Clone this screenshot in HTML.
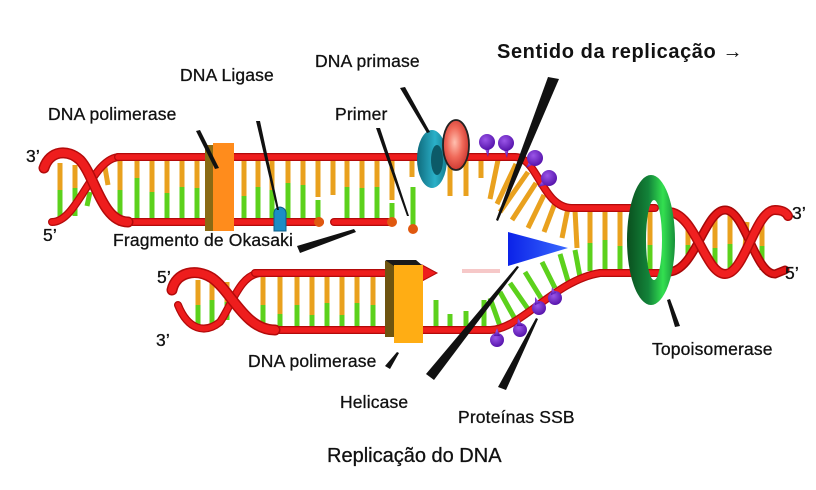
<!DOCTYPE html>
<html><head><meta charset="utf-8"><style>
html,body{margin:0;padding:0;background:#fff;}
svg{display:block;}
text{font-family:"Liberation Sans",Arial,sans-serif;fill:#111;}
.lb{font-size:17.5px;letter-spacing:0.15px;stroke:#111;stroke-width:0.3;}
.o{stroke:#e9a11e;stroke-width:5;}
.g{stroke:#5cd11c;stroke-width:5;}
.rd{fill:none;stroke:#b30a0a;stroke-width:8;stroke-linecap:round;}
.rf{fill:none;stroke:#ee1d1d;stroke-width:5.5;stroke-linecap:round;}
</style></head><body>
<svg width="816" height="490" viewBox="0 0 816 490" xmlns="http://www.w3.org/2000/svg">
<defs>
<radialGradient id="redE" cx="0.45" cy="0.45" r="0.6"><stop offset="0" stop-color="#ffc0b0"/><stop offset="0.5" stop-color="#f06a5a"/><stop offset="1" stop-color="#c8302a"/></radialGradient>
<linearGradient id="topo" x1="0" x2="1" y1="0" y2="0"><stop offset="0" stop-color="#0a4f1e"/><stop offset="0.45" stop-color="#13843a"/><stop offset="0.75" stop-color="#33e050"/><stop offset="1" stop-color="#17903a"/></linearGradient>
<linearGradient id="teal" x1="0" x2="1"><stop offset="0" stop-color="#0f6a7c"/><stop offset="0.6" stop-color="#2ab0c8"/><stop offset="1" stop-color="#157d90"/></linearGradient>
<linearGradient id="tri" x1="0" x2="1"><stop offset="0" stop-color="#0b22e8"/><stop offset="1" stop-color="#3a6aff"/></linearGradient>
<radialGradient id="pur" cx="0.4" cy="0.35" r="0.7"><stop offset="0" stop-color="#9a55e8"/><stop offset="1" stop-color="#5210a8"/></radialGradient>
</defs>
<rect width="816" height="490" fill="#fff"/>

<!-- ===== upper duplex rungs ===== -->
<g>
<line class="o" x1="60" y1="163" x2="60" y2="190"/><line class="g" x1="60" y1="190" x2="60" y2="218"/>
<line class="o" x1="75" y1="165" x2="75" y2="188"/><line class="g" x1="75" y1="188" x2="75" y2="216"/>
<line class="g" x1="90" y1="192" x2="87" y2="206"/>
<line class="o" x1="104" y1="162" x2="108" y2="185"/>
<line class="o" x1="120" y1="160" x2="120" y2="190"/><line class="g" x1="120" y1="190" x2="120" y2="219"/>
<line class="o" x1="137" y1="160" x2="137" y2="178"/><line class="g" x1="137" y1="178" x2="137" y2="219"/>
<line class="o" x1="152" y1="160" x2="152" y2="192"/><line class="g" x1="152" y1="192" x2="152" y2="219"/>
<line class="o" x1="167" y1="160" x2="167" y2="193"/><line class="g" x1="167" y1="193" x2="167" y2="219"/>
<line class="o" x1="182" y1="160" x2="182" y2="187"/><line class="g" x1="182" y1="187" x2="182" y2="219"/>
<line class="o" x1="197" y1="160" x2="197" y2="188"/><line class="g" x1="197" y1="188" x2="197" y2="219"/>
<line class="o" x1="244" y1="160" x2="244" y2="196"/><line class="g" x1="244" y1="196" x2="244" y2="219"/>
<line class="o" x1="258" y1="160" x2="258" y2="187"/><line class="g" x1="258" y1="187" x2="258" y2="219"/>
<line class="o" x1="272" y1="160" x2="272" y2="190"/><line class="g" x1="272" y1="190" x2="272" y2="219"/>
<line class="o" x1="288" y1="160" x2="288" y2="183"/><line class="g" x1="288" y1="183" x2="288" y2="219"/>
<line class="o" x1="303" y1="160" x2="303" y2="185"/><line class="g" x1="303" y1="185" x2="303" y2="219"/>
<line class="o" x1="318" y1="160" x2="318" y2="197"/><line class="g" x1="318" y1="200" x2="318" y2="219"/>
<line class="o" x1="333" y1="160" x2="333" y2="195"/>
<line class="o" x1="347" y1="160" x2="347" y2="187"/><line class="g" x1="347" y1="187" x2="347" y2="219"/>
<line class="o" x1="362" y1="160" x2="362" y2="188"/><line class="g" x1="362" y1="188" x2="362" y2="219"/>
<line class="o" x1="377" y1="160" x2="377" y2="187"/><line class="g" x1="377" y1="187" x2="377" y2="219"/>
<line class="o" x1="392" y1="160" x2="392" y2="200"/><line class="g" x1="392" y1="203" x2="392" y2="219"/>
<line class="o" x1="412" y1="160" x2="412" y2="177"/><line class="g" x1="413" y1="187" x2="413" y2="226"/>
<line class="o" x1="450" y1="160" x2="450" y2="196"/>
<line class="o" x1="466" y1="160" x2="466" y2="196"/>
<line class="o" x1="481" y1="160" x2="481" y2="178"/>
<line class="o" x1="498" y1="160" x2="490" y2="199"/>
<line class="o" x1="516" y1="164" x2="497" y2="204"/>
<line class="o" x1="528" y1="172" x2="500" y2="212"/>
<line class="o" x1="536" y1="183" x2="512" y2="220"/>
<line class="o" x1="544" y1="195" x2="528" y2="228"/>
<line class="o" x1="555" y1="203" x2="544" y2="232"/>
<line class="o" x1="568" y1="208" x2="562" y2="238"/>
<line class="o" x1="590" y1="210" x2="590" y2="243"/><line class="g" x1="590" y1="243" x2="590" y2="271"/>
<line class="o" x1="605" y1="210" x2="605" y2="240"/><line class="g" x1="605" y1="240" x2="605" y2="271"/>
<line class="o" x1="620" y1="210" x2="620" y2="246"/><line class="g" x1="620" y1="246" x2="620" y2="271"/>
<line class="o" x1="635" y1="210" x2="635" y2="242"/><line class="g" x1="635" y1="242" x2="635" y2="271"/>
<line class="o" x1="650" y1="210" x2="650" y2="245"/><line class="g" x1="650" y1="245" x2="650" y2="271"/>
<line class="o" x1="688" y1="222" x2="688" y2="245"/><line class="g" x1="688" y1="245" x2="688" y2="262"/>
<line class="o" x1="715" y1="214" x2="715" y2="248"/><line class="g" x1="715" y1="248" x2="715" y2="270"/>
<line class="o" x1="730" y1="214" x2="730" y2="244"/><line class="g" x1="730" y1="244" x2="730" y2="268"/>
<line class="o" x1="747" y1="222" x2="745" y2="248"/><line class="g" x1="745" y1="248" x2="743" y2="262"/>
<line class="o" x1="762" y1="214" x2="762" y2="246"/><line class="g" x1="762" y1="246" x2="762" y2="270"/>
<line class="o" x1="198" y1="280" x2="198" y2="305"/><line class="g" x1="198" y1="305" x2="198" y2="325"/>
<line class="o" x1="212" y1="276" x2="212" y2="300"/><line class="g" x1="212" y1="300" x2="212" y2="327"/>
<line class="o" x1="227" y1="282" x2="227" y2="302"/><line class="g" x1="227" y1="302" x2="227" y2="320"/>
<line class="o" x1="263" y1="276" x2="263" y2="305"/><line class="g" x1="263" y1="305" x2="263" y2="327"/>
<line class="o" x1="280" y1="276" x2="280" y2="314"/><line class="g" x1="280" y1="314" x2="280" y2="327"/>
<line class="o" x1="297" y1="276" x2="297" y2="305"/><line class="g" x1="297" y1="305" x2="297" y2="327"/>
<line class="o" x1="312" y1="276" x2="312" y2="315"/><line class="g" x1="312" y1="315" x2="312" y2="327"/>
<line class="o" x1="327" y1="276" x2="327" y2="303"/><line class="g" x1="327" y1="303" x2="327" y2="327"/>
<line class="o" x1="342" y1="276" x2="342" y2="315"/><line class="g" x1="342" y1="315" x2="342" y2="327"/>
<line class="o" x1="357" y1="276" x2="357" y2="303"/><line class="g" x1="357" y1="303" x2="357" y2="327"/>
<line class="o" x1="373" y1="276" x2="373" y2="305"/><line class="g" x1="373" y1="305" x2="373" y2="327"/>
<line class="o" x1="388" y1="276" x2="388" y2="305"/><line class="g" x1="388" y1="305" x2="388" y2="327"/>
<line class="g" x1="436" y1="300" x2="436" y2="327"/>
<line class="g" x1="450" y1="314" x2="450" y2="327"/>
<line class="g" x1="466" y1="311" x2="466" y2="327"/>
<line class="g" x1="484" y1="300" x2="484" y2="327"/>
<line class="g" x1="500" y1="326" x2="490" y2="298"/>
<line class="g" x1="515" y1="319" x2="500" y2="292"/>
<line class="g" x1="528" y1="309" x2="510" y2="283"/>
<line class="g" x1="541" y1="298" x2="525" y2="272"/>
<line class="g" x1="555" y1="288" x2="542" y2="262"/>
<line class="g" x1="568" y1="281" x2="560" y2="254"/>
<line class="g" x1="580" y1="277" x2="575" y2="250"/>
<line class="o" x1="575" y1="210" x2="577" y2="248"/>
</g>

<!-- ===== strands ===== -->
<g>
<path class="rd" d="M52 222 C78 222,92 157,120 157"/><path class="rf" d="M52 222 C78 222,92 157,120 157"/>
<path class="rd" d="M118 157 L515 157 C538 157,542 208,572 208 L655 208"/>
<path class="rf" d="M118 157 L515 157 C538 157,542 208,572 208 L655 208"/>
<path class="rd" d="M120 222 L320 222"/><path class="rf" d="M120 222 L320 222"/>
<path class="rd" d="M334 222 L392 222"/><path class="rf" d="M334 222 L392 222"/>
<path d="M44 168 C50 150,68 149,80 160 C95 176,102 222,128 222" fill="none" stroke="#b30a0a" stroke-width="11" stroke-linecap="round"/>
<path d="M44 168 C50 150,68 149,80 160 C95 176,102 222,128 222" fill="none" stroke="#ee1d1d" stroke-width="8" stroke-linecap="round"/>
<path class="rd" d="M178 305 C188 330,205 334,220 322 C232 305,240 273,262 273"/><path class="rf" d="M178 305 C188 330,205 334,220 322 C232 305,240 273,262 273"/>
<path class="rd" d="M255 273 L425 273"/><path class="rf" d="M255 273 L425 273"/>
<polygon points="422,265 437,273 422,281" fill="#ee1d1d" stroke="#b30a0a" stroke-width="1"/>
<path d="M462 271 L500 271" stroke="#f6c8c8" stroke-width="4"/>
<path class="rd" d="M270 330 L490 330 C520 330,555 280,600 273 L660 273"/>
<path class="rf" d="M270 330 L490 330 C520 330,555 280,600 273 L660 273"/>
<path d="M172 290 C176 272,196 268,212 278 C232 292,245 330,275 330" fill="none" stroke="#b30a0a" stroke-width="11" stroke-linecap="round"/>
<path d="M172 290 C176 272,196 268,212 278 C232 292,245 330,275 330" fill="none" stroke="#ee1d1d" stroke-width="8" stroke-linecap="round"/>
<path d="M668 272 C695 272,705 210,725 210 C745 210,755 274,775 274 L785 270" fill="none" stroke="#a50808" stroke-width="9" stroke-linecap="round"/>
<path d="M668 272 C695 272,705 210,725 210 C745 210,755 274,775 274 L785 270" fill="none" stroke="#e51818" stroke-width="6" stroke-linecap="round"/>
<path d="M668 212 C695 212,705 274,725 274 C745 274,755 210,775 210 C781 210,786 212,788 216" fill="none" stroke="#b30a0a" stroke-width="10" stroke-linecap="round"/>
<path d="M668 212 C695 212,705 274,725 274 C745 274,755 210,775 210 C781 210,786 212,788 216" fill="none" stroke="#f02020" stroke-width="7" stroke-linecap="round"/>
</g>

<!-- ===== proteins ===== -->
<rect x="205" y="145" width="9" height="86" fill="#8a6a14"/>
<rect x="213" y="143" width="21" height="88" fill="#ff8c1c"/>
<path d="M274 231 L274 216 Q273 208 280 207 Q287 208 286 216 L286 231 Z" fill="#1c8dc6" stroke="#0d5f8a" stroke-width="1"/>
<circle cx="319" cy="222" r="5" fill="#e0580f"/>
<circle cx="392" cy="222" r="5" fill="#e0580f"/>
<circle cx="413" cy="229" r="5" fill="#e0580f"/>
<rect x="385" y="261" width="10" height="76" fill="#6e5410"/>
<polygon points="385,260 416,260 423,266 394,266" fill="#1a1a1a"/>
<rect x="394" y="265" width="29" height="78" fill="#ffad14"/>
<ellipse cx="432" cy="159" rx="15" ry="29" fill="url(#teal)"/>
<ellipse cx="437" cy="160" rx="6" ry="15" fill="#0c5a68"/>
<ellipse cx="456" cy="145" rx="13" ry="25" fill="url(#redE)" stroke="#222" stroke-width="1.8"/>
<g fill="url(#pur)">
<path d="M484 146 L490 146 L488 157 Z"/><circle cx="487" cy="142" r="8"/>
<path d="M503 147 L509 147 L507 158 Z"/><circle cx="506" cy="143" r="8"/>
<path d="M530 160 L534 164 L526 168 Z"/><circle cx="535" cy="158" r="8"/>
<path d="M543 180 L546 185 L538 187 Z"/><circle cx="549" cy="178" r="8"/>
<circle cx="497" cy="340" r="7"/><path d="M494 336 L500 336 L497 328 Z"/>
<circle cx="520" cy="330" r="7"/><path d="M517 326 L523 326 L518 318 Z"/>
<circle cx="539" cy="308" r="7"/><path d="M535 305 L540 303 L535 297 Z"/>
<circle cx="555" cy="298" r="7"/><path d="M551 295 L556 293 L552 287 Z"/>
</g>
<polygon points="508,232 508,266 568,248" fill="url(#tri)"/>
<path fill-rule="evenodd" fill="url(#topo)" d="M627 240 A24 65 0 1 0 675 240 A24 65 0 1 0 627 240 Z M646 240 A8 40 0 1 0 662 240 A8 40 0 1 0 646 240 Z"/>

<!-- ===== pointers ===== -->
<g fill="#111">
<polygon points="196,131 200,130 219,168 215,169"/>
<polygon points="256,121 260,121 279,210 277,210"/>
<polygon points="376,128 380,128 409,216 407,216"/>
<polygon points="400,88 405,87 430,132 427,133"/>
<polygon points="548,77 559,79 498,221 496,220"/>
<polygon points="297,246 300,253 356,232 354,229"/>
<polygon points="385,366 390,369 399,353 397,352"/>
<polygon points="426,374 434,380 519,267 517,266"/>
<polygon points="498,387 506,390 538,319 536,318"/>
<polygon points="667,300 670,299 680,326 675,327"/>
</g>

<!-- ===== labels ===== -->
<text class="lb" x="48" y="120">DNA polimerase</text>
<text class="lb" x="180" y="81">DNA Ligase</text>
<text class="lb" x="315" y="67">DNA primase</text>
<text class="lb" x="335" y="120">Primer</text>
<text x="497" y="58" style="font-size:20px;font-weight:bold;letter-spacing:0.6px">Sentido da replicação →</text>
<text class="lb" x="26" y="162">3’</text>
<text class="lb" x="43" y="241">5’</text>
<text class="lb" x="113" y="246">Fragmento de Okasaki</text>
<text class="lb" x="157" y="283">5’</text>
<text class="lb" x="156" y="346">3’</text>
<text class="lb" x="792" y="219">3’</text>
<text class="lb" x="785" y="279">5’</text>
<text class="lb" x="248" y="367">DNA polimerase</text>
<text class="lb" x="340" y="408">Helicase</text>
<text class="lb" x="458" y="423">Proteínas SSB</text>
<text class="lb" x="652" y="355">Topoisomerase</text>
<text x="327" y="462" style="font-size:20px;stroke:#111;stroke-width:0.3">Replicação do DNA</text>
</svg>
</body></html>
